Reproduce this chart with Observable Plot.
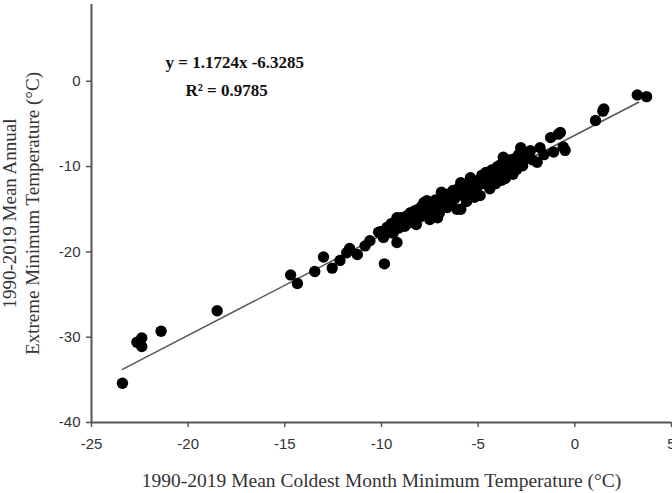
<!DOCTYPE html>
<html><head><meta charset="utf-8">
<script src="https://cdn.jsdelivr.net/npm/d3@7"></script>
<script src="https://cdn.jsdelivr.net/npm/@observablehq/plot@0.6"></script>
<style>body{margin:0;background:#fff} svg{display:block}</style>
</head><body><div id="chart"></div>
<script>
const coldestMonthMin = [
-23.4,-22.65,-22.4,-22.4,-21.4,-18.5,-14.7,-14.35,-13.45,-13.0,-12.55,-12.15,-11.8,-11.65,-11.25,-10.85,-10.6,-9.85,-10.15,-9.7,-9.2,-9.0,-9.5,
-10.0,-9.9,-9.8,-9.6,-9.4,-9.3,-9.1,-8.9,-8.8,-8.7,-8.6,-8.5,-8.4,-8.3,-8.2,-8.1,-8.0,-7.9,-7.8,-7.7,-7.6,-7.5,-7.4,-7.3,-7.2,-7.1,-7.0,-6.9,-6.8,-6.7,-6.6,-6.5,-6.4,-6.3,-6.2,-6.1,-6.0,-5.9,-5.9,-5.8,-5.7,-5.6,-5.5,-5.4,-5.3,-5.2,-5.1,-5.0,-4.9,-4.8,-4.7,-4.6,-4.5,-4.4,-4.3,-4.2,-4.1,-4.0,-3.9,-3.8,-3.7,-3.7,-3.6,-3.5,-3.4,-3.3,-3.2,-3.15,-3.0,-2.9,-2.8,-2.7,-2.6,-2.5,-2.3,-2.2,-1.95,-1.8,-1.6,-1.25,-1.1,-0.85,-0.75,-0.5,-0.6,
-9.2,-8.75,-8.35,-7.95,-7.65,-7.25,-6.95,-6.55,-6.15,-5.75,-5.35,-4.95,-4.55,-4.15,-3.85,-3.45,-3.05,-7.1,
1.07,1.5,1.45,3.23,3.71
];
const extremeMin = [
-35.4,-30.6,-30.1,-31.1,-29.3,-26.9,-22.7,-23.7,-22.3,-20.6,-21.9,-21.0,-20.1,-19.6,-20.3,-19.3,-18.7,-21.4,-17.7,-17.1,-18.9,-16.0,-16.7,
-17.6,-18.3,-17.9,-17.4,-17.8,-16.5,-17.2,-16.2,-17.0,-15.8,-16.6,-15.4,-16.1,-15.2,-16.8,-15.0,-15.9,-14.6,-14.2,-15.6,-14.9,-16.2,-14.4,-15.1,-13.9,-14.7,-15.4,-13.0,-14.1,-13.5,-14.8,-13.2,-14.3,-12.8,-13.7,-15.0,-12.5,-11.9,-15.0,-13.4,-12.3,-14.1,-12.9,-11.3,-12.6,-13.6,-11.7,-12.2,-13.4,-11.0,-12.0,-10.7,-11.5,-12.6,-10.4,-11.3,-12.0,-10.0,-10.9,-11.6,-8.9,-10.5,-11.4,-9.6,-10.8,-9.2,-10.9,-9.5,-10.3,-8.6,-7.8,-9.9,-9.1,-8.4,-8.15,-9.2,-9.5,-7.8,-8.6,-6.6,-8.3,-6.2,-6.0,-8.1,-7.7,
-16.0,-15.9,-15.6,-15.3,-14.0,-14.2,-14.0,-13.6,-12.9,-12.9,-12.0,-11.6,-11.0,-10.6,-9.8,-9.9,-9.0,-16.0,
-4.6,-3.25,-3.5,-1.6,-1.8
];
const xTicks = [-25, -20, -15, -10, -5, 0, 5];
const yTicks = [-40, -30, -20, -10, 0];
const slope = 1.1724;
const intercept = -6.3285;
const fitRange = [-23.4, 3.3];
const xLabel = "1990-2019 Mean Coldest Month Minimum Temperature (°C)";
const yLabel = "1990-2019 Mean Annual\nExtreme Minimum Temperature (°C)";
const eqText = "y = 1.1724x -6.3285";
const r2Text = "R² = 0.9785";

const points = coldestMonthMin.map((x, i) => ({x, y: extremeMin[i]}));
const fit = fitRange.map(x => ({x, y: slope * x + intercept}));
const serif = "'Liberation Serif', 'Times New Roman', serif";
const fmt = d => String(d);

const chart = Plot.plot({
  width: 672, height: 493,
  marginLeft: 91, marginRight: 1, marginTop: 4, marginBottom: 71,
  x: {domain: [-25, 5]},
  y: {domain: [-40, 9]},
  style: {fontFamily: "'Liberation Sans', Arial, sans-serif", fontSize: "15px", color: "#333", background: "#fff"},
  marks: [
    Plot.axisX({ticks: xTicks, tickFormat: fmt, tickSize: 5, tickPadding: 11, stroke: "#555", strokeWidth: 1.5, fontSize: 15, label: null}),
    Plot.axisY({ticks: yTicks, tickFormat: fmt, tickSize: 5, tickPadding: 6, stroke: "#555", strokeWidth: 1.5, fontSize: 15, label: null}),
    Plot.ruleY([-40], {stroke: "#555", strokeWidth: 2}),
    Plot.ruleX([-25], {stroke: "#555", strokeWidth: 2}),
    Plot.line(fit, {x: "x", y: "y", stroke: "#555", strokeWidth: 1.5}),
    Plot.dot(points, {x: "x", y: "y", r: 5.7, fill: "#000"}),
    Plot.text([eqText], {frameAnchor: "top-left", dx: 74, dy: 58, textAnchor: "start", lineAnchor: "middle", fontFamily: serif, fontWeight: "bold", fontSize: 17, fill: "#111"}),
    Plot.text([r2Text], {frameAnchor: "top-left", dx: 94, dy: 86, textAnchor: "start", lineAnchor: "middle", fontFamily: serif, fontWeight: "bold", fontSize: 17, fill: "#111"}),
    Plot.text([xLabel], {frameAnchor: "bottom", dy: 58, lineAnchor: "middle", fontFamily: serif, fontSize: 19.5, fill: "#333"}),
    Plot.text([yLabel], {frameAnchor: "left", dx: -71, rotate: -90, textAnchor: "middle", lineAnchor: "middle", lineHeight: 1.2, fontFamily: serif, fontSize: 19, fill: "#333"})
  ]
});
document.getElementById("chart").appendChild(chart);
</script>
</body></html>
